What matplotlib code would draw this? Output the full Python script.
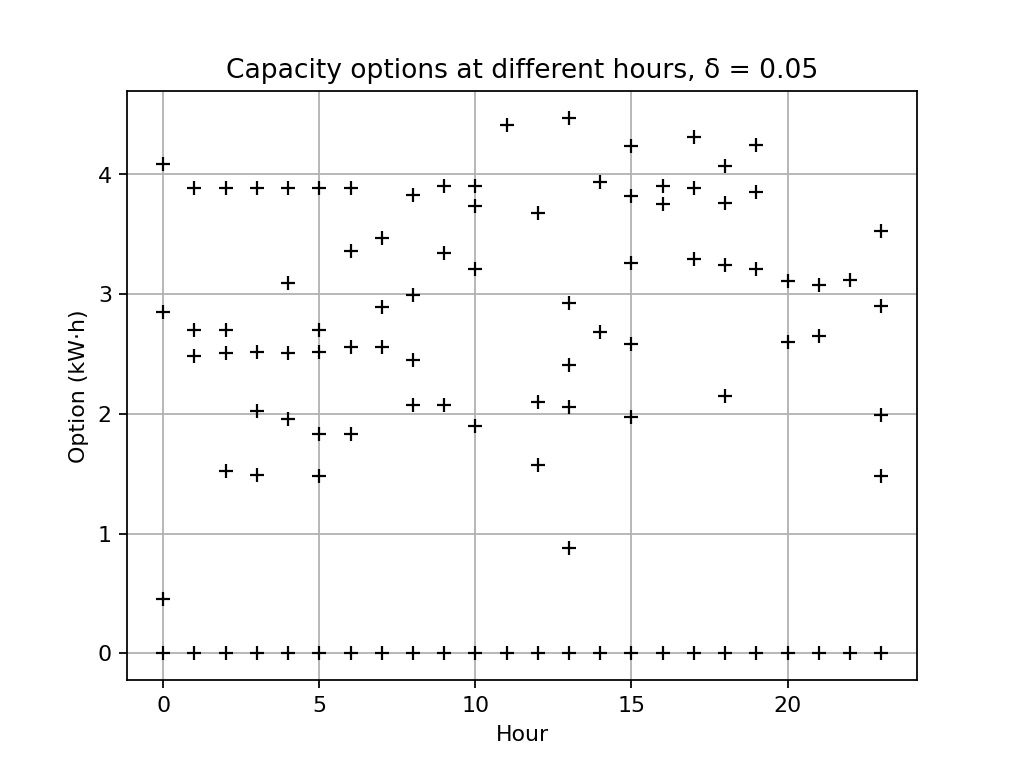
import matplotlib
matplotlib.use('Agg')
import matplotlib.pyplot as plt

# capacity options, one row per hour
hours = [
    0, 0, 0, 0,
    1, 1, 1, 1,
    2, 2, 2, 2, 2,
    3, 3, 3, 3, 3,
    4, 4, 4, 4, 4,
    5, 5, 5, 5, 5, 5,
    6, 6, 6, 6, 6,
    7, 7, 7, 7,
    8, 8, 8, 8, 8,
    9, 9, 9, 9,
    10, 10, 10, 10, 10,
    11, 11,
    12, 12, 12, 12,
    13, 13, 13, 13, 13, 13,
    14, 14, 14,
    15, 15, 15, 15, 15, 15,
    16, 16, 16,
    17, 17, 17, 17,
    18, 18, 18, 18, 18,
    19, 19, 19, 19,
    20, 20, 20,
    21, 21, 21,
    22, 22,
    23, 23, 23, 23, 23,
]
options = [
    4.09, 2.85, 0.45, 0.0,
    3.89, 2.70, 2.48, 0.0,
    3.89, 2.70, 2.51, 1.52, 0.0,
    3.89, 2.52, 2.02, 1.49, 0.0,
    3.89, 3.09, 2.51, 1.96, 0.0,
    3.89, 2.70, 2.52, 1.83, 1.48, 0.0,
    3.89, 3.36, 2.56, 1.83, 0.0,
    3.47, 2.89, 2.56, 0.0,
    3.83, 2.99, 2.45, 2.07, 0.0,
    3.90, 3.34, 2.07, 0.0,
    3.90, 3.74, 3.21, 1.90, 0.0,
    4.41, 0.0,
    3.68, 2.10, 1.57, 0.0,
    4.47, 2.93, 2.41, 2.06, 0.88, 0.0,
    3.94, 2.68, 0.0,
    4.24, 3.82, 3.26, 2.58, 1.97, 0.0,
    3.90, 3.75, 0.0,
    4.31, 3.89, 3.29, 0.0,
    4.07, 3.76, 3.24, 2.15, 0.0,
    4.25, 3.85, 3.21, 0.0,
    3.11, 2.60, 0.0,
    3.08, 2.65, 0.0,
    3.12, 0.0,
    3.53, 2.90, 1.99, 1.48, 0.0,
]

DELTA = 0.05


def main():
    fig, ax = plt.subplots(figsize=(6.4, 4.8), dpi=1019 / 6.4)

    ax.plot(hours, options, 'k+', linestyle='none')

    ax.set_title(f'Capacity options at different hours, δ = {DELTA}')
    ax.set_xlabel('Hour')
    ax.set_ylabel('Option (kW·h)')
    ax.grid(True)

    fig.savefig('out.png')


if __name__ == '__main__':
    main()
